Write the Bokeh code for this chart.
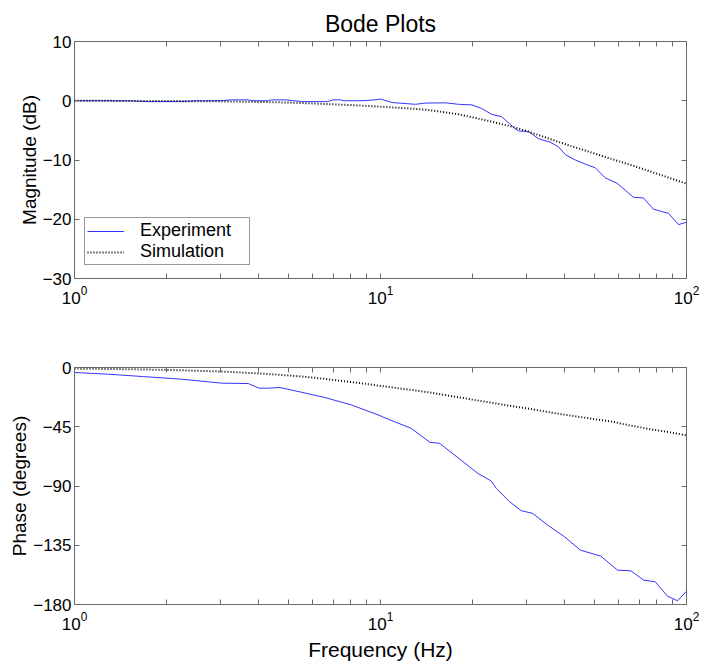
from bokeh.plotting import figure
from bokeh.models import (LogAxis, LinearAxis, FixedTicker, Legend, LegendItem, ColumnDataSource,
                          CustomJSTickFormatter)
from bokeh.layouts import column
from bokeh.embed import file_html
from bokeh.resources import INLINE

FONT = "Liberation Sans"

# ---- tick values ----
x_major = [1, 10, 100]
x_minor = [2, 3, 4, 5, 6, 7, 8, 9, 20, 30, 40, 50, 60, 70, 80, 90]
mag_ticks = [-30, -20, -10, 0, 10]
phase_ticks = [-180, -135, -90, -45, 0]

# ---- data ----
exp_mag_freq = [1, 1.5, 1.74, 2.21, 2.5, 3.0, 3.26, 3.7, 3.8, 4.3, 4.4, 4.9, 5.2, 5.6, 6.7, 7.0,
                7.4, 7.6, 8.5, 9.0, 9.6, 10.0, 10.9, 13.0, 14.0, 16.3, 18.0, 19.9, 21.4, 23.1, 24.9,
                27.5, 28.3, 30.5, 32.8, 35.9, 38.2, 40.2, 43.3, 47.8, 50.3, 54.2, 59.2, 63.1, 67.1,
                72.3, 78.0, 83.0, 87.3, 94.2, 100]
exp_mag_db = [0, 0, -0.15, -0.15, 0, 0, 0.15, 0.15, 0, 0, 0.15, 0.15, 0, -0.15, -0.15, 0.15,
              0.15, 0, 0, 0.05, 0.15, 0.3, -0.3, -0.6, -0.4, -0.35, -0.6, -0.7, -1.3, -2.3, -2.7,
              -4.7, -5.1, -5.2, -6.4, -7.0, -7.8, -9.1, -10.0, -10.9, -11.3, -13.0, -13.9, -15.1, -16.3,
              -16.4, -18.3, -18.7, -19.0, -20.9, -20.5]

sim_mag_freq = [1, 2, 3, 4, 5, 6, 7, 8, 10, 12, 14, 16, 18, 20, 23, 27, 30, 40, 50, 60, 70, 80, 90, 100]
sim_mag_db = [0.0, -0.05, -0.1, -0.2, -0.3, -0.45, -0.6, -0.72, -1.0, -1.25, -1.5, -1.9, -2.3, -2.8,
              -3.5, -4.4, -5.1, -7.3, -8.9, -10.2, -11.3, -12.3, -13.2, -14.0]

exp_phase_freq = [1, 1.29, 1.68, 2.24, 3.03, 3.7, 4.01, 4.3, 4.69, 5.52, 6.58, 8.03, 8.88, 9.82,
                  10.6, 12.6, 14.5, 15.6, 18.3, 20.8, 23.0, 23.9, 26.4, 28.8, 31.4, 35.2, 39.9, 45.0,
                  52.5, 59.5, 65.8, 72.4, 79.0, 86.7, 93.5, 100]
exp_phase_deg = [-3.8, -5.1, -6.9, -8.9, -11.9, -12.2, -15.7, -15.7, -15.2, -18.8, -22.8, -28.4, -32.2,
                 -36.0, -39.3, -46.2, -56.8, -57.6, -70.2, -80.4, -86.2, -91.8, -101.9, -108.7, -110.8,
                 -119.7, -128.5, -138.7, -143.3, -153.9, -154.4, -161.5, -162.7, -173.7, -177.2, -169.9]

sim_phase_freq = [1, 1.5, 2, 3, 4, 5, 6, 7, 8, 9, 10, 12.6, 15, 18, 22, 26, 30, 36, 44, 50, 57, 65,
                  75, 87, 100]
sim_phase_deg = [-0.8, -1.3, -1.8, -3.0, -4.5, -6.0, -7.6, -9.4, -11.0, -12.5, -14.0, -17.0, -19.5,
                 -22.6, -26.0, -28.8, -31.0, -34.2, -37.3, -39.2, -41.1, -43.9, -46.6, -49.0, -51.5]

AXC = "#6a6a6a"
BLUE = "#3535ff"


def style(p, yticks, ylabel):
    p.outline_line_color = AXC
    p.outline_line_width = 1
    p.xgrid.visible = False
    p.ygrid.visible = False
    p.xaxis.ticker = FixedTicker(ticks=x_major, minor_ticks=x_minor)
    p.yaxis.ticker = FixedTicker(ticks=yticks)
    p.yaxis.axis_label = ylabel
    for ax in p.xaxis + p.yaxis:
        ax.axis_line_color = None
        ax.major_tick_in = 5
        ax.major_tick_out = 0
        ax.minor_tick_in = 5
        ax.minor_tick_out = 0
        ax.major_tick_line_color = AXC
        ax.minor_tick_line_color = AXC
        ax.major_label_text_font = FONT
        ax.major_label_text_font_size = "17px"
        ax.major_label_text_color = "black"
        ax.axis_label_text_font = FONT
        ax.axis_label_text_font_style = "normal"
        ax.axis_label_text_color = "black"
    p.xaxis.major_label_standoff = 7
    p.yaxis.major_label_standoff = 3
    p.yaxis.minor_tick_line_color = None
    p.yaxis.axis_label_text_font_size = "19px"
    p.yaxis.axis_label_standoff = 0
    blank = CustomJSTickFormatter(code="return ' ';")
    top = LogAxis(ticker=FixedTicker(ticks=x_major, minor_ticks=x_minor), formatter=blank)
    right = LinearAxis(ticker=FixedTicker(ticks=yticks), formatter=blank)
    for ax in (top, right):
        ax.axis_line_color = None
        ax.major_tick_in = 5
        ax.major_tick_out = 0
        ax.minor_tick_in = 5
        ax.minor_tick_out = 0
        ax.major_tick_line_color = AXC
        ax.minor_tick_line_color = AXC
        ax.major_label_text_font_size = "1px"
        ax.major_label_text_alpha = 0
        ax.major_label_standoff = 0
    right.minor_tick_line_color = None
    p.add_layout(top, "above")
    p.add_layout(right, "right")


p1 = figure(x_axis_type="log", x_range=(1, 100), y_range=(-30, 10),
            frame_width=612, frame_height=237,
            min_border_left=74, min_border_right=20, min_border_top=41, min_border_bottom=41,
            output_backend="svg", toolbar_location=None, title="Bode Plots")
p1.title.align = "center"
p1.title.text_font = FONT
p1.title.text_font_size = "23px"
p1.title.text_font_style = "normal"
p1.title.text_color = "black"
p1.title.standoff = 9
style(p1, mag_ticks, "Magnitude (dB)")

src_em = ColumnDataSource(dict(f=exp_mag_freq, v=exp_mag_db))
src_sm = ColumnDataSource(dict(f=sim_mag_freq, v=sim_mag_db))
r_e = p1.line("f", "v", source=src_em, line_color=BLUE, line_width=1)
r_s = p1.line("f", "v", source=src_sm, line_color="black", line_width=2, line_dash="1 2")

legend = Legend(items=[LegendItem(label="Experiment", renderers=[r_e]),
                       LegendItem(label="Simulation", renderers=[r_s])],
                location=(10, 13))
legend.label_text_font = FONT
legend.label_text_font_size = "18px"
legend.label_text_color = "black"
legend.glyph_width = 37
legend.label_standoff = 16
legend.label_width = 107
legend.padding = 2
legend.spacing = 0
legend.margin = 0
legend.border_line_color = "#333333"
legend.border_line_width = 1
legend.background_fill_color = "white"
legend.background_fill_alpha = 1
p1.add_layout(legend)

p2 = figure(x_axis_type="log", x_range=(1, 100), y_range=(-180, 0),
            frame_width=612, frame_height=237,
            min_border_left=74, min_border_right=20, min_border_top=48, min_border_bottom=50,
            output_backend="svg", toolbar_location=None)
style(p2, phase_ticks, "Phase (degrees)")
xax = p2.below[0]
xax.axis_label = "Frequency (Hz)"
xax.axis_label_text_font_size = "21px"
xax.axis_label_standoff = 5

src_ep = ColumnDataSource(dict(f=exp_phase_freq, v=exp_phase_deg))
src_sp = ColumnDataSource(dict(f=sim_phase_freq, v=sim_phase_deg))
p2.line("f", "v", source=src_ep, line_color=BLUE, line_width=1)
p2.line("f", "v", source=src_sp, line_color="black", line_width=2, line_dash="1 2")

layout = column(p1, p2, spacing=0)
open("out.html", "w").write(file_html(layout, INLINE))
